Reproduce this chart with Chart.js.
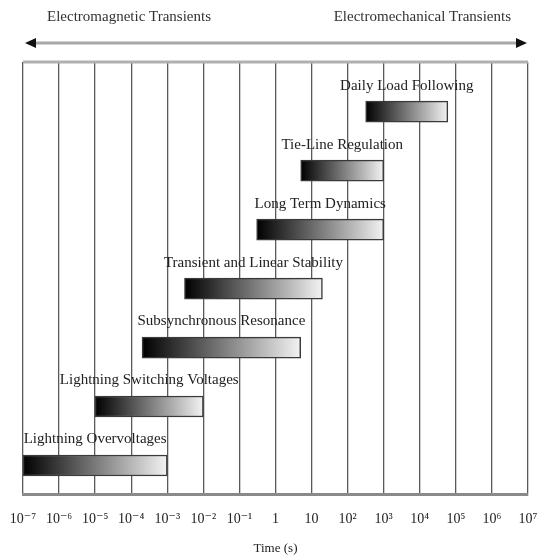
<!DOCTYPE html>
<html>
<head>
<meta charset="utf-8">
<script src="https://cdn.jsdelivr.net/npm/chart.js@4.4.1/dist/chart.umd.min.js"></script>
<style>
  html, body { margin: 0; padding: 0; background: #ffffff; }
  #wrap { width: 540px; height: 560px; }
</style>
</head>
<body>
<div id="wrap"><canvas id="c" width="540" height="560"></canvas></div>
<script>
// ---- data ----
const categories = [
  'Daily Load Following',
  'Tie-Line Regulation',
  'Long Term Dynamics',
  'Transient and Linear Stability',
  'Subsynchronous Resonance',
  'Lightning Switching Voltages',
  'Lightning Overvoltages'
];
const startTimes = [316, 5, 0.3, 0.003, 0.0002, 1e-5, 1e-7];   // seconds
const endTimes   = [60000, 1000, 1000, 20, 5, 0.01, 0.001];     // seconds
const rowIndex   = [0, 1, 2, 3, 4, 5, 6];
const tickValues = [1e-7, 1e-6, 1e-5, 1e-4, 1e-3, 1e-2, 1e-1, 1, 10, 1e2, 1e3, 1e4, 1e5, 1e6, 1e7];
const tickLabels = ['10⁻⁷','10⁻⁶','10⁻⁵','10⁻⁴','10⁻³','10⁻²','10⁻¹','1','10','10²','10³','10⁴','10⁵','10⁶','10⁷'];
const headerTexts = ['Electromagnetic Transients', 'Electromechanical Transients'];
const axisTitle = 'Time (s)';

const SERIF = "'Liberation Serif', 'DejaVu Serif', serif";

function barGradient(ctx) {
  const chart = ctx.chart;
  const xs = chart.scales && chart.scales.x;
  if (!xs || ctx.type !== 'data') return '#777';
  const i = ctx.dataIndex;
  const x0 = xs.getPixelForValue(startTimes[i]);
  const x1 = xs.getPixelForValue(endTimes[i]);
  if (!isFinite(x0) || !isFinite(x1)) return '#777';
  const g = chart.ctx.createLinearGradient(x0, 0, x1, 0);
  g.addColorStop(0, '#000000');
  g.addColorStop(1, '#f3f3f3');
  return g;
}

const barLabels = {
  id: 'barLabels',
  afterDatasetsDraw(chart) {
    const c = chart.ctx;
    const meta = chart.getDatasetMeta(0);
    c.save();
    c.font = '15px ' + SERIF;
    c.fillStyle = '#222';
    c.textAlign = 'center';
    c.textBaseline = 'middle';
    meta.data.forEach((el, i) => {
      const cx = (el.x + el.base) / 2;
      c.fillText(categories[i], cx, el.y - 26);
    });
    c.restore();
  }
};

const frameAndHeader = {
  id: 'frameAndHeader',
  afterDraw(chart) {
    const c = chart.ctx;
    const a = chart.chartArea;
    c.save();
    // top border of frame
    c.strokeStyle = '#b0b0b0';
    c.lineWidth = 3;
    c.beginPath();
    c.moveTo(a.left, a.top);
    c.lineTo(a.right, a.top);
    c.stroke();
    // arrow
    const y = 43;
    const l = a.left + 2, r = a.right - 1;
    c.strokeStyle = '#a8a8a8';
    c.lineWidth = 3;
    c.beginPath();
    c.moveTo(l + 8, y);
    c.lineTo(r - 8, y);
    c.stroke();
    c.fillStyle = '#111';
    c.beginPath();
    c.moveTo(l, y); c.lineTo(l + 11, y - 5); c.lineTo(l + 11, y + 5); c.closePath(); c.fill();
    c.beginPath();
    c.moveTo(r, y); c.lineTo(r - 11, y - 5); c.lineTo(r - 11, y + 5); c.closePath(); c.fill();
    // header texts
    c.font = '15px ' + SERIF;
    c.fillStyle = '#333';
    c.textBaseline = 'middle';
    c.textAlign = 'left';
    c.fillText(headerTexts[0], 47, 17);
    c.textAlign = 'right';
    c.fillText(headerTexts[1], 511, 17);
    c.restore();
  }
};

new Chart(document.getElementById('c'), {
  type: 'bar',
  data: {
    datasets: [{
      data: categories.map((name, i) => ({ x: [startTimes[i], endTimes[i]], y: rowIndex[i] })),
      backgroundColor: barGradient,
      borderColor: '#3a3a3a',
      borderWidth: 1.5,
      borderSkipped: false,
      barThickness: 21
    }]
  },
  options: {
    responsive: false,
    animation: false,
    indexAxis: 'y',
    layout: { padding: { left: 23, right: 12, top: 62, bottom: 2 } },
    plugins: { legend: { display: false }, tooltip: { enabled: false }, title: { display: false } },
    scales: {
      x: {
        type: 'logarithmic',
        min: 1e-7,
        max: 1e7,
        afterBuildTicks(scale) { scale.ticks = tickValues.map(v => ({ value: v })); },
        ticks: {
          autoSkip: false,
          maxRotation: 0,
          padding: 2,
          color: '#222',
          font: { family: SERIF, size: 14 },
          callback: (value, index) => tickLabels[index]
        },
        grid: { color: '#5a5a5a', lineWidth: 1.3, drawTicks: true, tickLength: 14, tickColor: 'rgba(0,0,0,0)' },
        border: { display: true, color: '#8a8a8a', width: 3 },
        title: {
          display: true,
          text: axisTitle,
          color: '#222',
          font: { family: SERIF, size: 13 },
          padding: { top: 11, bottom: 2 }
        }
      },
      y: {
        type: 'linear',
        reverse: true,
        offset: false,
        min: -0.843,
        max: 6.494,
        display: false
      }
    }
  },
  plugins: [barLabels, frameAndHeader]
});
</script>
</body>
</html>
